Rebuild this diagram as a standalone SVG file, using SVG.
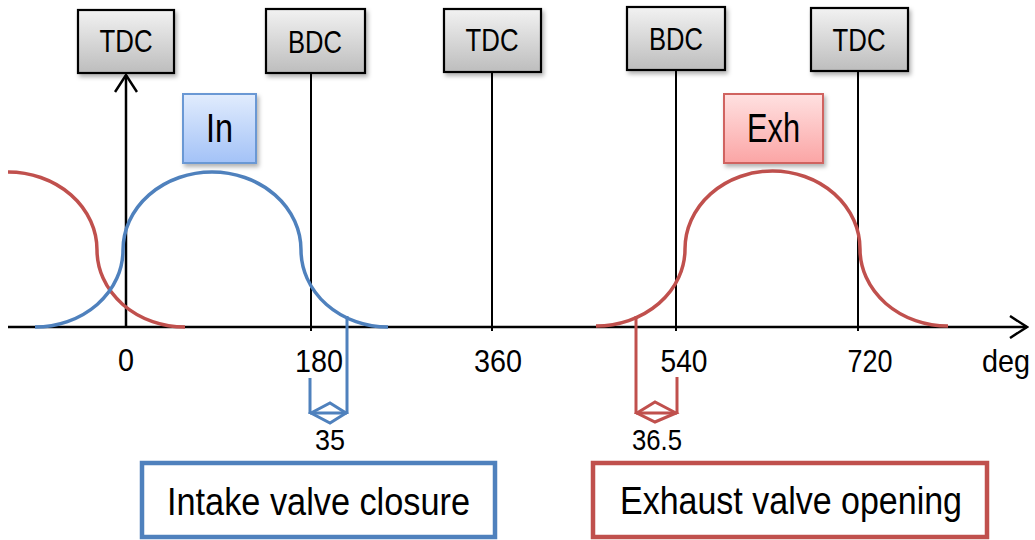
<svg xmlns="http://www.w3.org/2000/svg" width="1035" height="540" viewBox="0 0 1035 540">
<style>
.t{font-family:"Liberation Sans",Arial,sans-serif;fill:#000;text-anchor:middle}
.blk{stroke:#000;stroke-width:2;fill:none}
.ax{stroke:#000;stroke-width:2.5;fill:none}
.blue{stroke:#4F81BD;stroke-width:3.5;fill:none}
.red{stroke:#C0504D;stroke-width:3.5;fill:none}
.dc{stroke-width:3;fill:none}
.gbox{fill:url(#gGray);stroke:#000;stroke-width:2.2}
</style>
<defs>
<linearGradient id="gGray" x1="0" y1="0" x2="0" y2="1"><stop offset="0" stop-color="#f2f2f2"/><stop offset="1" stop-color="#bdbdbd"/></linearGradient>
<linearGradient id="gBlue" x1="0" y1="0" x2="0" y2="1"><stop offset="0" stop-color="#e1ecfd"/><stop offset="1" stop-color="#a3c2f7"/></linearGradient>
<linearGradient id="gRed" x1="0" y1="0" x2="0" y2="1"><stop offset="0" stop-color="#ffe1e1"/><stop offset="1" stop-color="#fba5a5"/></linearGradient>
<filter id="sh" x="-20%" y="-20%" width="150%" height="160%"><feDropShadow dx="2" dy="3" stdDeviation="2" flood-color="#000" flood-opacity="0.3"/></filter>
<marker id="ar" viewBox="0 0 20 24" refX="18" refY="12" markerWidth="20" markerHeight="24" markerUnits="userSpaceOnUse" orient="auto"><path d="M1,1 L18,12 L1,23" fill="none" stroke="#000" stroke-width="2.5"/></marker>
</defs>
<rect width="1035" height="540" fill="#fff"/>

<g id="connectors">
<line class="ax" x1="8" y1="327" x2="1027" y2="327" marker-end="url(#ar)"/>
<line class="ax" x1="126" y1="327" x2="126" y2="75" marker-end="url(#ar)"/>
<line class="blk" x1="311" y1="73" x2="311" y2="331"/>
<line class="blk" x1="492" y1="72" x2="492" y2="331"/>
<line class="blk" x1="676" y1="70" x2="676" y2="331"/>
<line class="blk" x1="858" y1="71" x2="858" y2="331"/>
<g id="dim-intake" stroke="#4F81BD">
<line class="dc" x1="347" y1="316" x2="347" y2="414"/>
<line class="dc" x1="310" y1="378" x2="310" y2="414"/>
<line class="dc" x1="310" y1="413" x2="347" y2="413"/>
<path class="dc" d="M311,413 L330,403 L346,413 L330,423 Z" stroke-width="2.5"/>
</g>
<g id="dim-exhaust" stroke="#C0504D">
<line class="dc" x1="636" y1="316" x2="636" y2="414"/>
<line class="dc" x1="677" y1="377" x2="677" y2="414"/>
<line class="dc" x1="636" y1="413" x2="677" y2="413"/>
<path class="dc" d="M637,413 L655,402 L676,413 L655,422 Z" stroke-width="2.5"/>
</g>
</g>

<g id="curves">
<path id="exhaust-prev" class="red" d="M8,172 A89,78 0 0 1 97,250 A88,77 0 0 0 185,327"/>
<path id="intake-curve" class="blue" d="M35,327 A88,77 0 0 0 123,250 A89,78 0 0 1 301,250 A87,77 0 0 0 388,327"/>
<path id="exhaust-curve" class="red" d="M596,326 A89,77 0 0 0 685,249 A87.5,78 0 0 1 860,249 A88,77 0 0 0 948,326"/>
</g>

<g id="node-tdc1"><rect class="gbox" x="78" y="10" width="96" height="63" filter="url(#sh)"/><text class="t" x="126" y="52" font-size="32" textLength="53" lengthAdjust="spacingAndGlyphs">TDC</text></g>
<g id="node-bdc1"><rect class="gbox" x="266" y="9" width="99" height="64" filter="url(#sh)"/><text class="t" x="315" y="53" font-size="32" textLength="54" lengthAdjust="spacingAndGlyphs">BDC</text></g>
<g id="node-tdc2"><rect class="gbox" x="444" y="9" width="97" height="63" filter="url(#sh)"/><text class="t" x="492" y="51" font-size="32" textLength="53" lengthAdjust="spacingAndGlyphs">TDC</text></g>
<g id="node-bdc2"><rect class="gbox" x="627" y="7" width="98" height="63" filter="url(#sh)"/><text class="t" x="676" y="50" font-size="32" textLength="54" lengthAdjust="spacingAndGlyphs">BDC</text></g>
<g id="node-tdc3"><rect class="gbox" x="811" y="8" width="97" height="63" filter="url(#sh)"/><text class="t" x="859" y="51" font-size="32" textLength="53" lengthAdjust="spacingAndGlyphs">TDC</text></g>

<g id="node-in"><rect x="183" y="94" width="73" height="69" fill="url(#gBlue)" stroke="#6b98d4" stroke-width="2" filter="url(#sh)"/><text class="t" x="219.5" y="142" font-size="40" textLength="27" lengthAdjust="spacingAndGlyphs">In</text></g>
<g id="node-exh"><rect x="724" y="94" width="99" height="69" fill="url(#gRed)" stroke="#d06461" stroke-width="2" filter="url(#sh)"/><text class="t" x="773.5" y="142" font-size="40" textLength="53" lengthAdjust="spacingAndGlyphs">Exh</text></g>

<g id="labels">
<text class="t" x="126" y="371" font-size="32" textLength="16" lengthAdjust="spacingAndGlyphs">0</text>
<text class="t" x="319" y="372" font-size="32" textLength="48" lengthAdjust="spacingAndGlyphs">180</text>
<text class="t" x="498" y="372" font-size="32" textLength="48" lengthAdjust="spacingAndGlyphs">360</text>
<text class="t" x="684" y="372" font-size="32" textLength="47" lengthAdjust="spacingAndGlyphs">540</text>
<text class="t" x="870" y="372" font-size="32" textLength="45" lengthAdjust="spacingAndGlyphs">720</text>
<text class="t" x="1006" y="372" font-size="32" textLength="48" lengthAdjust="spacingAndGlyphs">deg</text>
<text class="t" x="330" y="450" font-size="30" textLength="30" lengthAdjust="spacingAndGlyphs">35</text>
<text class="t" x="657" y="450" font-size="30" textLength="50" lengthAdjust="spacingAndGlyphs">36.5</text>
</g>

<g id="node-intake-closure"><rect x="142" y="463" width="353" height="74" fill="#fff" stroke="#4F81BD" stroke-width="4.5"/><text class="t" x="318.5" y="515" font-size="38" textLength="303" lengthAdjust="spacingAndGlyphs">Intake valve closure</text></g>
<g id="node-exhaust-opening"><rect x="593" y="463" width="394" height="74" fill="#fff" stroke="#C0504D" stroke-width="4.5"/><text class="t" x="791" y="514" font-size="38" textLength="342" lengthAdjust="spacingAndGlyphs">Exhaust valve opening</text></g>
</svg>
